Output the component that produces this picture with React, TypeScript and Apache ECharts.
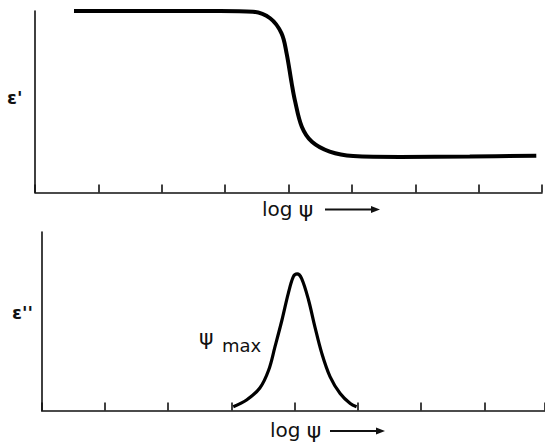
import React, { useEffect, useRef } from "react";
import * as echarts from "echarts";

// Upper panel: real permittivity ε' vs log ψ
const epsPrimeLogPsi = [0.615, 2.92, 3.44, 3.71, 3.89, 3.97, 4.05, 4.1, 4.21, 4.37, 4.65, 5.02, 5.76, 6.86, 7.91];
const epsPrimeValues = [100, 100, 99.6, 96, 87.7, 76.7, 60.2, 50.9, 36.2, 27.9, 22.5, 20.1, 19.6, 19.8, 20.3];

// Lower panel: loss ε'' vs log ψ
const epsDoublePrimeLogPsi = [3.03, 3.24, 3.45, 3.59, 3.69, 3.8, 3.9, 3.98, 4.04, 4.11, 4.22, 4.32, 4.43, 4.56, 4.72, 4.88, 4.98];
const epsDoublePrimeValues = [2.1, 5.9, 12.6, 22.7, 35.8, 50.7, 65.6, 75, 76.5, 74, 61.9, 47, 32, 19, 9.5, 3.9, 2.1];

const topLabelY = "ε'";
const bottomLabelY = "ε''";
const xLabelWord = "log";
const xLabelSymbol = "ψ";

const FONT = "DejaVu Sans";

export default function App() {
  const ref = useRef<HTMLDivElement>(null);
  useEffect(() => {
    if (!ref.current) return;
    const chart = echarts.init(ref.current, undefined, { renderer: "svg" });
    const pairs = (xs: number[], ys: number[]) => xs.map((x, i) => [x, ys[i]]);
    const axisLine = { show: true, lineStyle: { color: "#111", width: 1.6 } };
    const xAxisCommon = {
      type: "value" as const,
      min: 0,
      interval: 1,
      axisLine,
      axisTick: { show: true, inside: true, length: 8, lineStyle: { color: "#111", width: 1.6 } },
      axisLabel: { show: false },
      splitLine: { show: false },
    };
    const yAxisCommon = {
      type: "value" as const,
      min: 0,
      max: 100,
      axisLine,
      axisTick: { show: false },
      axisLabel: { show: false },
      splitLine: { show: false },
    };
    const arrow = (x0: number, x1: number, y: number) => [
      { type: "line", shape: { x1: x0, y1: y, x2: x1 - 6, y2: y }, style: { stroke: "#111", lineWidth: 2 } },
      { type: "polygon", shape: { points: [[x1 - 9, y - 3.5], [x1, y], [x1 - 9, y + 3.5]] }, style: { fill: "#111" } },
    ];
    const xLabel = (left: number, top: number) => ({
      type: "text",
      left,
      top,
      style: {
        text: `{w|${xLabelWord} }{s|${xLabelSymbol}}`,
        rich: {
          w: { font: `20px "${FONT}"`, fill: "#111" },
          s: { font: `22px "${FONT}"`, fill: "#111" },
        },
      },
    });
    chart.setOption({
      animation: false,
      backgroundColor: "#fff",
      grid: [
        { left: 35, right: 3, top: 11, height: 181.5 },
        { left: 41.7, right: 0, top: 232, height: 178.5 },
      ],
      xAxis: [
        { ...xAxisCommon, gridIndex: 0, max: 8 },
        { ...xAxisCommon, gridIndex: 1, max: 7.96 },
      ],
      yAxis: [
        { ...yAxisCommon, gridIndex: 0 },
        { ...yAxisCommon, gridIndex: 1 },
      ],
      series: [
        {
          type: "line",
          xAxisIndex: 0,
          yAxisIndex: 0,
          data: pairs(epsPrimeLogPsi, epsPrimeValues),
          smooth: 0.35,
          showSymbol: false,
          clip: false,
          lineStyle: { color: "#000", width: 4 },
        },
        {
          type: "line",
          xAxisIndex: 1,
          yAxisIndex: 1,
          data: pairs(epsDoublePrimeLogPsi, epsDoublePrimeValues),
          smooth: 0.35,
          showSymbol: false,
          clip: false,
          lineStyle: { color: "#000", width: 3.2 },
        },
      ],
      graphic: [
        { type: "text", left: 7, top: 88, style: { text: topLabelY, font: `bold 18px "${FONT}"`, fill: "#111" } },
        { type: "text", left: 12, top: 303, style: { text: bottomLabelY, font: `bold 18px "${FONT}"`, fill: "#111" } },
        xLabel(262, 198),
        ...arrow(325, 380, 209.5),
        xLabel(270, 419),
        ...arrow(330, 385, 431),
        { type: "text", left: 199, top: 326, style: { text: "ψ", font: `22px "${FONT}"`, fill: "#111" } },
        { type: "text", left: 222, top: 336, style: { text: "max", font: `18px "${FONT}"`, fill: "#111" } },
      ],
    });
    return () => chart.dispose();
  }, []);
  return <div ref={ref} style={{ position: "fixed", left: 0, top: 0, width: 545, height: 442 }} />;
}
